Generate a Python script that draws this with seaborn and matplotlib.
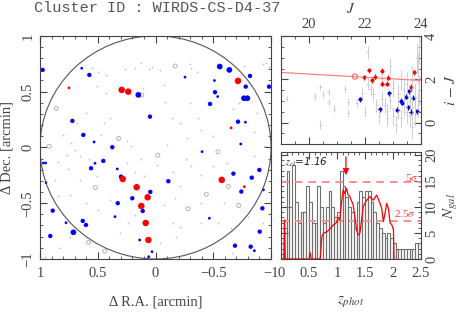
import numpy as np
import pandas as pd
import matplotlib
matplotlib.use("Agg")
import matplotlib.pyplot as plt
import seaborn as sns
from matplotlib.patches import Circle
from matplotlib.ticker import MultipleLocator

# ---------------- sky map: offsets from cluster centre [arcmin] ----------------
red_ra = [0.293, 0.236, -0.714, 0.749, -0.654, -0.573, 0.284, 0.163, 0.068, 0.123, 0.085, 0.062, -0.769]
red_dec = [0.516, 0.500, 0.596, 0.534, 0.175, -0.291, -0.283, -0.357, -0.447, -0.525, -0.677, -0.830, -0.352]
red_size = [3, 3, 3, 1, 1, 3, 3, 3, 3, 3, 3, 3, 1]

blue_ra = [0.977, 0.639, 0.573, -0.255, -0.556, -0.639, -0.818, 0.149, -0.515, -0.538, -0.510, -0.781,
           -0.983, -0.766, -0.795, -0.472, 0.048, 0.720, -0.714, -0.778, 0.625, 0.532, 0.374, -0.738,
           -0.403, 0.971, 0.951, 0.452, 0.524, 0.558, 0.331, -0.899, -0.674, -0.833, 0.299, -0.111,
           0.948, 0.045, -0.743, -0.934, 0.201, 0.327, 0.111, 0.890, -0.925, 0.351, 0.775, 0.630,
           0.602, 0.711, -0.466, -0.902, 0.911, 0.137, -0.688, -0.824, -0.856, 0.030, 0.059]
blue_dec = [0.695, 0.710, 0.650, 0.630, 0.725, 0.695, 0.641, 0.471, 0.495, 0.456, 0.600, 0.545,
            0.545, 0.441, 0.441, 0.390, 0.276, 0.238, 0.231, 0.226, 0.112, 0.049, 0.002, 0.031,
            -0.038, -0.140, -0.140, -0.121, -0.142, -0.187, -0.193, -0.202, -0.235, -0.271, -0.262, -0.303,
            -0.316, -0.399, -0.396, -0.381, -0.456, -0.500, -0.570, -0.567, -0.546, -0.621, -0.675, -0.659,
            -0.695, -0.761, -0.635, -0.755, -0.794, -0.830, -0.881, -0.890, -0.926, -0.935, -0.980]
blue_size = [2, 1, 2, 1, 3, 3, 2, 3, 2, 1, 1, 2,
             2, 3, 3, 2, 2, 2, 2, 1, 2, 1, 2, 1,
             1, 1, 1, 2, 1, 2, 1, 2, 2, 2, 2, 2,
             1, 2, 2, 1, 2, 2, 2, 2, 2, 1, 1, 2,
             2, 3, 1, 2, 2, 1, 2, 2, 1, 1, 1]

grey_ra = [0.55, 0.50, 0.43, 0.26, 0.18, 0.13, 0.06, 0.03, -0.04, -0.30, -0.31, -0.36, -0.77, -0.93, -0.96, -0.98,
           0.51, 0.43, 0.60, 0.68, 0.80, 0.73, 0.70, 0.76, 0.84, 0.65, 0.58, 0.47, 0.45, 0.39, 0.25, 0.21,
           0.13, 0.25, 0.18, 0.10, -0.01, -0.10, -0.14, -0.21, -0.30, -0.37, -0.39, -0.27, -0.50, -0.62,
           -0.50, -0.39, -0.31, -0.26, -0.15, -0.21, -0.85, -0.95, -0.85, -0.88, -0.67, -0.72, -0.08, -0.07,
           0.11, 0.51, 0.65, 0.87, 0.77, 0.84, 0.74, 0.60, 0.50, 0.39, 0.18, 0.24, 0.31, 0.74, 0.83, 0.96,
           -0.07, -0.17, -0.15, -0.21, -0.39, -0.54, -0.65, -0.59, -0.39, -0.80, -0.93, -0.66, -0.18, -0.04]
grey_dec = [0.71, 0.68, 0.65, 0.70, 0.71, 0.76, 0.70, 0.72, 0.69, 0.75, 0.71, 0.68, 0.73, 0.75, 0.76, 0.72,
            0.55, 0.49, 0.31, 0.22, 0.11, 0.04, -0.02, -0.19, -0.13, -0.08, -0.10, 0.11, 0.22, 0.26, 0.06, 0.01,
            -0.10, -0.14, -0.22, -0.26, -0.16, 0.02, 0.26, 0.22, 0.40, 0.26, 0.16, 0.08, 0.10, -0.14,
            -0.17, -0.25, -0.17, -0.10, -0.22, -0.35, -0.08, 0.01, 0.14, 0.31, 0.34, 0.40, 0.41, 0.56,
            0.53, -0.26, -0.29, -0.29, -0.07, -0.44, -0.43, -0.50, -0.56, -0.47, -0.61, -0.68, -0.77, -0.80, -0.90, -0.98,
            -0.52, -0.45, -0.68, -0.71, -0.68, -0.68, -0.72, -0.50, -0.50, -0.62, -0.68, -0.95, -0.80, -0.86]

ring_ra = [-0.17, 0.86, 0.92, 0.32, -0.02, -0.54, 0.52, -0.63, 0.44, 0.58, -0.28, -0.72, -0.44, 0.12]
ring_dec = [0.73, 0.35, 0.01, 0.08, -0.07, -0.04, -0.36, -0.35, -0.93, -0.85, -0.55, -0.52, -0.42, 0.47]

# ---------------- colour-magnitude diagram ----------------
cmd_red_J = [21.97, 22.13, 22.24, 22.35, 22.60, 22.62, 22.78, 22.83, 23.65, 23.77]
cmd_red_c = [2.09, 2.42, 1.95, 2.12, 2.41, 1.80, 1.80, 2.08, 1.65, 2.32]
cmd_blue_J = [21.83, 22.53, 22.87, 23.16, 23.28, 23.33, 23.47, 23.58, 23.54, 23.64, 23.72, 23.87]
cmd_blue_c = [1.08, 0.62, 1.36, 0.59, 1.00, 0.92, 1.20, 1.44, 0.71, 0.51, 1.15, 0.53]
cmd_grey_J = [19.2, 20.2, 20.4, 20.5, 20.7, 20.9, 20.4, 21.3, 21.4, 21.4, 22.0, 22.1, 22.1, 22.2, 22.3,
              22.4, 22.5, 22.6, 22.7, 22.8, 22.8, 22.9, 22.9, 23.0, 23.0, 23.1, 23.2, 23.2, 23.3, 23.3,
              23.4, 23.4, 23.5, 23.5, 23.6, 23.6, 23.7, 23.7, 23.8, 23.8, 23.85, 23.9, 23.9, 23.95, 23.95,
              23.7, 22.6, 21.9, 21.7, 20.7]
cmd_grey_c = [1.1, 1.2, 1.65, 1.3, 0.95, 0.65, -0.1, 1.55, 0.95, 0.45, 0.5, 3.25, 1.8, 1.55, 1.3,
              0.8, 0.3, 1.1, 0.8, 0.55, 0.2, 2.6, 1.0, 0.3, 1.6, -0.1, 1.3, 0.6, 2.0, 0.2,
              1.5, 0.8, 0.5, 1.8, 0.3, 1.0, 0.7, 2.0, 1.2, 0.4, 3.0, 2.5, 0.8, 3.5, 1.5,
              -0.2, 2.0, 1.35, 0.9, 1.4]
cmd_grey_err = [0.12, 0.15, 0.15, 0.15, 0.15, 0.15, 0.2, 0.2, 0.2, 0.2, 0.25, 0.3, 0.3, 0.3, 0.3,
                0.3, 0.35, 0.35, 0.35, 0.35, 0.35, 0.4, 0.35, 0.4, 0.4, 0.4, 0.45, 0.45, 0.5, 0.45,
                0.5, 0.5, 0.5, 0.55, 0.5, 0.55, 0.55, 0.6, 0.6, 0.55, 0.7, 0.7, 0.6, 0.8, 0.7,
                0.55, 0.35, 0.25, 0.2, 0.15]
rs_J = [19.0, 24.0]
rs_c = [2.32, 1.95]
bcg_J = [21.64]
bcg_c = [2.13]

# ---------------- photo-z histogram ----------------
z_counts = [3, 6, 17, 10, 18, 11, 7, 9, 9, 14, 11, 7, 7, 14, 10, 7, 10, 13, 10, 8,
            9, 17, 14, 12, 10, 9, 6, 11, 13, 12, 13, 13, 11, 9, 7, 6, 5, 4, 5, 4,
            3, 2, 2, 2, 2, 2, 2, 2, 3, 3]
sig_z = [0.0, 0.05, 0.06, 0.065, 0.075, 0.5, 0.52, 0.54, 0.70, 0.73, 0.76, 0.82, 0.875, 0.93, 0.99,
         1.02, 1.05, 1.08, 1.11, 1.14, 1.17, 1.20, 1.23, 1.29, 1.32, 1.35, 1.38, 1.41, 1.44, 1.47,
         1.53, 1.59, 1.65, 1.71, 1.77, 1.80, 1.83, 1.86, 1.89, 1.92, 1.95, 1.98, 2.01, 2.02]
sig_n = [0.0, 0.0, 7.5, 7.5, 0.0, 0.0, 1.2, 0.0, 0.0, 4.3, 5.0, 5.2, 5.8, 6.5, 7.0,
         8.0, 7.5, 10.7, 13.3, 12.6, 13.6, 12.3, 12.0, 10.4, 8.1, 5.6, 4.6, 5.0, 7.5, 10.1,
         11.3, 12.0, 11.3, 12.3, 10.7, 9.7, 7.2, 8.8, 10.7, 9.7, 6.9, 6.6, 5.6, 0.0]
z_cl = 1.16
lvl_5sig = 14.8
lvl_25sig = 7.4

# ---------------- style ----------------
sns.set_style("ticks")
plt.rcParams["font.family"] = ["Liberation Serif", "DejaVu Serif"]
plt.rcParams["mathtext.fontset"] = "stix"
frame = "#444444"
plt.rcParams.update({
    "axes.edgecolor": frame, "axes.linewidth": 0.8,
    "xtick.color": frame, "ytick.color": frame,
    "xtick.direction": "in", "ytick.direction": "in",
    "xtick.major.size": 5, "ytick.major.size": 5,
    "xtick.minor.size": 2.5, "ytick.minor.size": 2.5,
    "xtick.labelsize": 10.5, "ytick.labelsize": 10.5,
    "text.color": frame, "axes.labelcolor": frame,
})

fig = plt.figure(figsize=(4.63, 3.12), dpi=100)
ax_map = fig.add_axes([0.0864, 0.170, 0.499, 0.715])
ax_cmd = fig.add_axes([0.607, 0.538, 0.302, 0.346])
ax_hist = fig.add_axes([0.607, 0.170, 0.302, 0.343])


def all_ticks(ax):
    ax.tick_params(which="both", top=True, bottom=True, left=True, right=True)


# --- sky map ---
sns.scatterplot(x=grey_ra, y=grey_dec, ax=ax_map, color="#c8c8c8", s=4,
                marker="+", linewidth=0.6)
sns.scatterplot(x=ring_ra, y=ring_dec, ax=ax_map, s=8, facecolor="none",
                edgecolor="#b5b5b5", linewidth=0.7)
size_map = {1: 4, 2: 10, 3: 17}
sns.scatterplot(x=blue_ra, y=blue_dec, ax=ax_map, color="#0000ff", linewidth=0,
                s=[size_map[k] for k in blue_size])
red_map = {1: 4, 3: 22}
sns.scatterplot(x=red_ra, y=red_dec, ax=ax_map, color="#ff0000", linewidth=0,
                s=[red_map[k] for k in red_size])
ax_map.add_patch(Circle((0, 0), 1.0, fill=False, edgecolor="#555555", linewidth=0.8))
ax_map.set_xlim(1, -1)
ax_map.set_ylim(-1, 1)
ax_map.xaxis.set_minor_locator(MultipleLocator(0.1))
ax_map.yaxis.set_minor_locator(MultipleLocator(0.1))
ax_map.set_xticks([1, 0.5, 0, -0.5, -1])
ax_map.set_xticklabels(["1", "0.5", "0", "\u22120.5", "\u22121"])
ax_map.set_yticks([-1, -0.5, 0, 0.5, 1])
ax_map.set_yticklabels(["\u22121", "\u22120.5", "0", "0.5", "1"], rotation=90, va="center")
all_ticks(ax_map)
ax_map.tick_params(axis="x", pad=6)
ax_map.tick_params(axis="y", pad=4)
ax_map.set_xlabel("\u0394 R.A. [arcmin]", fontsize=10.5, labelpad=11)
ax_map.set_ylabel("\u0394 Dec. [arcmin]", fontsize=10.5, labelpad=6)

fig.text(157 / 463, 1 - 8 / 312, "Cluster ID : WIRDS-CS-D4-37", ha="center", va="center",
         family="Liberation Mono", fontsize=11, color="#555555")

# --- colour-magnitude diagram ---
ax_cmd.errorbar(cmd_grey_J, cmd_grey_c, yerr=cmd_grey_err, xerr=0.05, fmt="none",
                ecolor="#c8c8c8", elinewidth=0.6)
sns.lineplot(x=rs_J, y=rs_c, ax=ax_cmd, color="#ff8080", linewidth=0.9)
sns.scatterplot(x=bcg_J, y=bcg_c, ax=ax_cmd, s=14, facecolor="none", edgecolor="#ff6060",
                linewidth=0.8)
ax_cmd.errorbar(cmd_red_J, cmd_red_c, xerr=0.05, yerr=0.12, fmt="none", ecolor="#ff0000",
                elinewidth=0.7)
sns.scatterplot(x=cmd_red_J, y=cmd_red_c, ax=ax_cmd, color="#ff0000", s=8, linewidth=0)
ax_cmd.errorbar(cmd_blue_J, cmd_blue_c, xerr=0.05, yerr=0.12, fmt="none", ecolor="#0000ff",
                elinewidth=0.7)
sns.scatterplot(x=cmd_blue_J, y=cmd_blue_c, ax=ax_cmd, color="#0000ff", s=8, linewidth=0)
ax_cmd.set_xlim(19, 24)
ax_cmd.set_ylim(-1, 4)
ax_cmd.xaxis.set_major_locator(MultipleLocator(2))
ax_cmd.xaxis.set_minor_locator(MultipleLocator(0.5))
ax_cmd.yaxis.set_major_locator(MultipleLocator(2))
ax_cmd.yaxis.set_minor_locator(MultipleLocator(0.5))
all_ticks(ax_cmd)
ax_cmd.tick_params(labelbottom=False, labelleft=False, labeltop=True, labelright=True)
ax_cmd.tick_params(axis="x", pad=4)
ax_cmd.tick_params(axis="y", pad=3)
for t in ax_cmd.get_yticklabels():
    t.set_rotation(90)
    t.set_va("center")
ax_cmd.xaxis.set_label_position("top")
ax_cmd.yaxis.set_label_position("right")
ax_cmd.set_xlabel("$J$", fontsize=11, labelpad=3)
ax_cmd.set_ylabel("$i\\,-\\,J$", fontsize=11, labelpad=4)

# --- photo-z histogram ---
z_edges = [round(0.05 * k, 2) for k in range(51)]
hist_df = pd.DataFrame({"z": [e + 0.025 for e in z_edges[:-1]], "n": z_counts})
sns.histplot(data=hist_df, x="z", weights="n", bins=z_edges, ax=ax_hist, fill=False,
             color="#707070", linewidth=0.8)
ax_hist.axhline(lvl_5sig, color="#ff9090", linestyle=(0, (4, 3)), linewidth=1.4)
ax_hist.axhline(lvl_25sig, color="#ff9090", linestyle=(0, (4, 3)), linewidth=1.4)
sns.lineplot(x=sig_z, y=sig_n, ax=ax_hist, color="#ff0000", linewidth=0.9, sort=False,
             estimator=None)
ax_hist.annotate("", xy=(z_cl, 15.6), xytext=(z_cl, 20.2),
                 arrowprops=dict(arrowstyle="-|>", color="#ff0000", lw=0.9,
                                 mutation_scale=9))
ax_hist.text(2.33, lvl_5sig + 0.8, "5$\\sigma$", color="#ff4040", fontsize=8,
             ha="center", va="center")
ax_hist.text(2.22, lvl_25sig + 1.3, "2.5$\\sigma$", color="#ff4040", fontsize=8,
             ha="center", va="center")
ax_hist.text(0.07, 18.6, "$z_{cl}$=1.16", fontsize=7.5, ha="left", va="center",
             color="#222222", style="italic", family="DejaVu Sans")
ax_hist.set_xlim(0, 2.5)
ax_hist.set_ylim(0, 20.6)
ax_hist.xaxis.set_minor_locator(MultipleLocator(0.1))
ax_hist.yaxis.set_major_locator(MultipleLocator(5))
ax_hist.yaxis.set_minor_locator(MultipleLocator(1))
ax_hist.set_xticks([0, 0.5, 1, 1.5, 2, 2.5])
ax_hist.set_xticklabels(["0", "0.5", "1", "1.5", "2", "2.5"])
all_ticks(ax_hist)
ax_hist.tick_params(labelleft=False, labelright=True)
ax_hist.tick_params(axis="x", pad=6)
ax_hist.tick_params(axis="y", pad=3)
for t in ax_hist.get_yticklabels():
    t.set_rotation(90)
    t.set_va("center")
ax_hist.yaxis.set_label_position("right")
ax_hist.set_ylabel("$N_{gal}$", fontsize=11, labelpad=3)
ax_hist.set_xlabel("$z_{phot}$", fontsize=11, labelpad=10)

fig.savefig("out.png", dpi=100)
